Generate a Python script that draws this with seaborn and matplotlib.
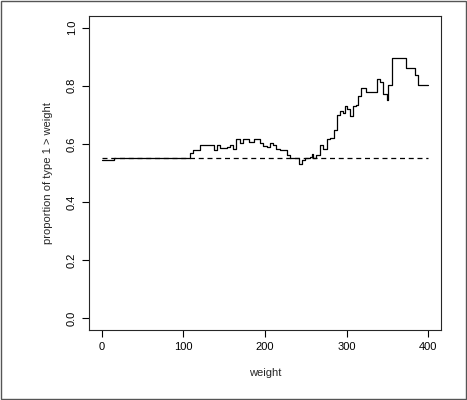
import matplotlib
matplotlib.use("Agg")
import matplotlib.pyplot as plt
import seaborn as sns
import pandas as pd

weights = [0, 15, 105, 108, 112, 120, 133, 137, 141, 145, 153, 157, 161, 165, 169, 173, 180, 186, 190,
           194, 198, 202, 206, 210, 214, 218, 227, 231, 239, 242, 245, 249, 255, 257, 259, 263, 267,
           271, 276, 280, 284, 288, 292, 296, 298, 300, 304, 308, 312, 314, 318, 324, 335, 337, 341,
           345, 349, 351, 355, 369, 373, 382, 384, 388, 400]
props = [0.546, 0.552, 0.552, 0.569, 0.578, 0.595, 0.595, 0.578, 0.595, 0.585, 0.588, 0.595, 0.584,
         0.616, 0.604, 0.616, 0.608, 0.616, 0.616, 0.602, 0.592, 0.588, 0.602, 0.595, 0.584, 0.578,
         0.561, 0.552, 0.55, 0.531, 0.545, 0.552, 0.555, 0.566, 0.552, 0.561, 0.595, 0.581, 0.616,
         0.619, 0.649, 0.698, 0.714, 0.705, 0.731, 0.719, 0.696, 0.731, 0.734, 0.764, 0.792, 0.778,
         0.778, 0.823, 0.814, 0.772, 0.751, 0.802, 0.894, 0.894, 0.861, 0.861, 0.837, 0.802, 0.802]
baseline = 0.55
df = pd.DataFrame({"weight": weights, "prop": props})

sns.set_style("ticks")
plt.rcParams['font.family'] = ['Liberation Sans', 'DejaVu Sans']
fig = plt.figure(figsize=(4.67, 4.0), dpi=100)
ax = fig.add_axes([0.19, 0.175, 0.755, 0.785])
sns.lineplot(data=df, x="weight", y="prop", drawstyle="steps-post", color="black", lw=0.9, ax=ax)
ax.plot([0, 400], [baseline, baseline], ls=(0, (4, 3)), color="black", lw=0.9)
ax.set_xlim(-16, 416)
ax.set_ylim(-0.04, 1.04)
ax.set_xticks([0, 100, 200, 300, 400])
ax.set_yticks([0, 0.2, 0.4, 0.6, 0.8, 1.0])
ax.set_yticklabels(["0.0", "0.2", "0.4", "0.6", "0.8", "1.0"], rotation=90, va="center")
ax.tick_params(labelsize=8, length=5, width=0.8, colors="black")
for s in ax.spines.values():
    s.set_visible(True); s.set_linewidth(0.8)
ax.set_xlabel("weight", fontsize=8, labelpad=12)
ax.set_ylabel("proportion of type 1 > weight", fontsize=8, labelpad=10)
fig.patches.append(plt.Rectangle((0.003, 0.003), 0.994, 0.994, transform=fig.transFigure,
                                 fill=False, edgecolor="#555555", lw=1))
fig.savefig("out.png", dpi=100)
